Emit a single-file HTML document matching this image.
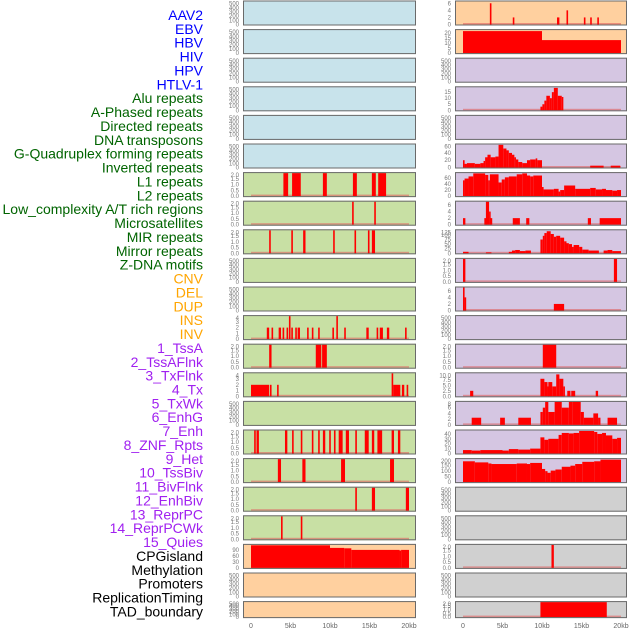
<!DOCTYPE html>
<html><head><meta charset="utf-8"><style>
html,body{margin:0;padding:0;background:#fff;width:630px;height:630px;overflow:hidden}
svg{display:block;font-family:"Liberation Sans",sans-serif}
</style></head><body>
<svg id="chart" width="630" height="630" viewBox="0 0 630 630" xmlns="http://www.w3.org/2000/svg"></svg>
<script>
// ---- data: track labels ----
const trackLabels = ["AAV2","EBV","HBV","HIV","HPV","HTLV-1","Alu repeats","A-Phased repeats","Directed repeats","DNA transposons","G-Quadruplex forming repeats","Inverted repeats","L1 repeats","L2 repeats","Low_complexity A/T rich regions","Microsatellites","MIR repeats","Mirror repeats","Z-DNA motifs","CNV","DEL","DUP","INS","INV","1_TssA","2_TssAFlnk","3_TxFlnk","4_Tx","5_TxWk","6_EnhG","7_Enh","8_ZNF_Rpts","9_Het","10_TssBiv","11_BivFlnk","12_EnhBiv","13_ReprPC","14_ReprPCWk","15_Quies","CPGisland","Methylation","Promoters","ReplicationTiming","TAD_boundary"];
const labelGroups = [6,13,5,15,5];
const groupColors = ["#0000ff","#006400","#ffa500","#a020f0","#000000"];
const xTickValues = [0,5,10,15,20];
const xTickLabels = ["0","5kb","10kb","15kb","20kb"];

// ---- data: segments [startKb, endKb, value] ----
const L6 = [[4.1,4.7,2],[5.2,6.3,2],[9.1,9.6,2],[12.9,13.4,2],[15.3,15.8,2],[16.1,17.1,2]];
const L7 = [[12.8,13.0,2],[15.6,15.8,2]];
const L8 = [[2.3,2.5,2],[5.1,5.3,2],[6.6,6.9,2],[10.4,10.6,2],[13.1,13.3,2],[14.8,15.0,2],[15.3,15.7,2]];
const L11 = [[2.0,2.3,2],[2.6,2.8,2],[3.5,3.8,2],[4.0,4.2,2],[4.5,4.7,2],[4.8,5.0,4],[5.1,5.3,2],[5.6,5.8,2],[5.9,6.2,2],[7.1,7.3,2],[7.7,7.9,2],[8.5,8.7,2],[10.3,10.5,2],[10.8,11.0,4],[11.8,12.0,2],[14.6,14.9,2],[15.9,16.1,2],[16.3,16.7,2],[17.2,17.5,2],[19.5,19.7,2]];
const L12 = [[2.3,2.6,2],[8.2,8.9,2],[9.0,9.6,2]];
const L13 = [[0.0,2.3,2],[2.4,2.6,2],[3.3,3.5,2],[17.8,18.0,4],[18.0,18.9,2],[19.1,19.4,2],[19.7,19.9,2]];
const L15 = [[0.4,0.6,2],[0.7,1.0,2],[4.3,4.6,2],[5.2,5.4,2],[6.3,6.5,2],[7.7,7.9,2],[8.5,8.7,2],[9.1,9.4,2],[9.9,10.1,2],[10.5,10.7,2],[11.1,11.6,2],[12.0,12.4,2],[13.2,13.4,2],[14.4,14.9,2],[15.3,15.6,2],[16.0,16.6,2],[17.8,18.1,2],[18.6,18.9,2]];
const L16 = [[3.4,3.8,2],[6.5,6.9,2],[11.4,11.9,2],[17.6,18.1,2]];
const L17 = [[13.2,13.4,2],[15.3,15.7,2],[19.6,20.0,2]];
const L18 = [[3.8,4.0,2],[6.3,6.5,2]];
const L19 = [[0.0,10.0,113],[10.0,11.8,100],[11.8,12.7,98],[12.7,18.8,90],[18.8,19.0,87],[19.0,20.0,90]];
const R0 = [[3.4,3.6,6],[6.3,6.45,2],[11.9,12.2,2],[13.1,13.3,4],[15.3,15.5,2],[16.1,16.3,2],[17.0,17.2,2]];
const R1 = [[0.0,10.0,22],[10.0,20.0,13]];
const R3 = [[9.8,10.05,3],[10.05,10.3,5],[10.3,10.55,8],[10.55,11.0,12],[11.0,11.25,10],[11.25,11.5,15],[11.5,12.0,18.5],[12.0,12.5,12],[12.5,12.7,11]];
const R5 = [[0.0,0.2,20],[0.2,0.5,10],[0.5,1.5,12],[1.5,2.2,10],[2.2,2.6,12],[2.6,2.8,18],[2.8,3.1,28],[3.1,3.5,35],[3.5,4.1,28],[4.1,4.5,30],[4.5,5.1,62],[5.1,5.5,52],[5.5,5.8,47],[5.8,6.2,40],[6.2,6.5,35],[6.5,6.7,28],[6.7,7.0,22],[7.0,7.5,15],[7.5,8.1,12],[8.1,8.5,20],[8.5,9.2,22],[9.2,9.4,25],[9.4,10.0,20],[16.1,17.8,5],[18.7,19.9,5]];
const R6 = [[0.0,0.2,52],[0.2,0.7,58],[0.7,1.3,65],[1.3,2.8,75],[2.8,3.2,70],[3.2,3.4,52],[3.4,4.5,72],[4.5,4.9,45],[4.9,5.3,55],[5.3,5.8,62],[5.8,6.8,65],[6.8,7.5,72],[7.5,8.1,75],[8.1,8.5,68],[8.5,8.9,65],[8.9,10.0,68],[10.0,10.2,30],[10.2,11.5,22],[11.5,12.1,24],[12.1,12.3,15],[12.3,12.8,20],[12.8,14.2,35],[14.2,16.1,24],[16.1,16.8,27],[16.8,17.6,22],[17.6,18.1,24],[18.1,18.9,20],[18.9,19.5,18],[19.5,20.0,20]];
const R7 = [[0.0,0.3,2],[2.7,3.0,2],[2.9,3.3,7],[3.3,3.4,4],[3.4,3.7,2],[6.3,7.2,2],[8.0,8.4,2],[15.8,16.2,2],[17.3,20.0,2]];
const R8 = [[0.0,0.7,8],[2.9,3.6,5],[5.8,6.2,8],[6.2,6.6,15],[6.6,7.2,18],[7.2,7.9,12],[7.9,8.6,15],[9.8,10.1,75],[10.1,10.3,95],[10.3,10.6,110],[10.6,11.1,120],[11.1,11.5,105],[11.5,11.8,90],[11.8,12.3,95],[12.3,12.8,85],[12.8,13.1,65],[13.1,13.4,55],[13.4,13.8,50],[13.8,14.0,35],[14.0,14.7,45],[14.7,15.1,35],[15.1,15.9,20],[15.9,17.2,15],[17.8,18.3,15],[18.3,18.9,18],[18.9,20.0,12]];
const R9 = [[0.0,0.3,2],[19.1,19.5,2]];
const R10 = [[0.0,0.2,7],[0.2,0.35,4],[11.5,12.8,2]];
const R12 = [[10.1,11.8,2]];
const R13 = [[0.9,1.3,2.5],[9.8,10.3,8],[10.3,10.7,6.5],[10.7,10.8,4.5],[10.8,11.3,6.5],[11.3,11.8,4.5],[11.8,12.2,10],[12.2,12.7,8],[12.7,12.85,4.5],[13.2,13.6,2.5],[13.7,14.2,2.5],[16.8,17.1,2.5]];
const R14 = [[1.1,2.3,2.5],[4.7,5.3,2.5],[7.0,8.6,2.5],[9.8,10.1,4.5],[10.1,10.4,6],[10.4,10.8,8],[10.8,11.6,4.5],[11.6,12.5,8],[12.5,13.4,6],[13.4,13.9,8],[13.9,14.9,8],[14.9,15.3,4.5],[15.3,16.5,2.5],[16.5,17.1,4],[17.1,17.4,2.5],[18.3,19.5,2.5]];
const R15 = [[0.0,1.1,7],[1.1,2.2,6],[2.2,5.0,7],[5.0,5.8,6],[5.8,7.0,9],[7.0,8.5,8],[8.5,9.8,10],[9.8,10.3,33],[10.3,10.8,28],[10.8,12.1,30],[12.1,12.5,38],[12.5,13.4,42],[13.4,14.0,41],[14.0,14.7,42],[14.7,16.6,46],[16.6,17.0,44],[17.0,17.6,40],[17.6,18.1,42],[18.1,18.9,37],[18.9,19.5,30],[19.5,20.0,32]];
const R16 = [[0.0,1.5,190],[1.5,3.2,180],[3.2,3.6,170],[3.6,6.8,165],[6.8,8.1,170],[8.1,8.5,165],[8.5,10.0,175],[10.0,10.4,120],[10.4,10.7,100],[10.7,11.1,85],[11.1,11.7,105],[11.7,12.5,115],[12.5,13.6,140],[13.6,14.2,150],[14.2,15.1,165],[15.1,16.6,185],[16.6,17.4,190],[17.4,20.0,205]];
const R19 = [[11.2,11.5,2]];
const R21 = [[9.8,18.2,2]];

// ---- tick arrays ----
const tEmpty = [0,100,200,300,400,500];
const tEmptyL = ["0","100","200","300","400","500"];
const tBin = [0,0.5,1,1.5,2];
const tBinL = ["0.0","0.5","1.0","1.5","2.0"];
const t04 = [0,1,2,3,4];
const t04L = ["0","1","2","3","4"];
const t06 = [0,2,4,6];
const t06L = ["0","2","4","6"];

const BLUE="#c8e3eb", GREEN="#c8e0a4", ORANGE="#ffd09f", PURPLE="#d5c6e2", GREY="#d0d0d0";
// [col,row,bg,ymax,data,ticks,tickLabels,name]
const panels = [];
function P(c,r,bg,ymax,d,t,tl,n){panels.push({c:c,r:r,bg:bg,ymax:ymax,d:d,t:t,tl:tl,n:n});}
for(let r=0;r<6;r++) P(0,r,BLUE,550,null,tEmpty,tEmptyL,"left-virus-"+r);
P(0,6,GREEN,2,L6,tBin,tBinL,"left-l1");
P(0,7,GREEN,2,L7,tBin,tBinL,"left-l2");
P(0,8,GREEN,2,L8,tBin,tBinL,"left-low-complexity");
P(0,9,GREEN,550,null,tEmpty,tEmptyL,"left-empty-9");
P(0,10,GREEN,550,null,tEmpty,tEmptyL,"left-empty-10");
P(0,11,GREEN,4,L11,t04,t04L,"left-ins");
P(0,12,GREEN,2,L12,tBin,tBinL,"left-row-12");
P(0,13,GREEN,4,L13,t04,t04L,"left-row-13");
P(0,14,GREEN,550,null,tEmpty,tEmptyL,"left-empty-14");
P(0,15,GREEN,2,L15,tBin,tBinL,"left-row-15");
P(0,16,GREEN,2,L16,tBin,tBinL,"left-row-16");
P(0,17,GREEN,2,L17,tBin,tBinL,"left-row-17");
P(0,18,GREEN,2,L18,tBin,tBinL,"left-row-18");
P(0,19,ORANGE,115,L19,[0,30,60,90],["0","30","60","90"],"left-cpg");
P(0,20,ORANGE,550,null,tEmpty,tEmptyL,"left-empty-20");
P(0,21,ORANGE,550,null,tEmpty,tEmptyL,"left-empty-21");
P(1,0,ORANGE,6.5,R0,t06,t06L,"right-aav2");
P(1,1,ORANGE,23,R1,[0,5,10,15,20],["0","5","10","15","20"],"right-ebv");
P(1,2,PURPLE,550,null,tEmpty,tEmptyL,"right-empty-2");
P(1,3,PURPLE,19,R3,[0,5,10,15],["0","5","10","15"],"right-alu");
P(1,4,PURPLE,550,null,tEmpty,tEmptyL,"right-empty-4");
P(1,5,PURPLE,63,R5,[0,20,40,60],["0","20","40","60"],"right-g-quadruplex");
P(1,6,PURPLE,76,R6,[0,20,40,60],["0","20","40","60"],"right-l1");
P(1,7,PURPLE,7,R7,t06,t06L,"right-low-complexity");
P(1,8,PURPLE,125,R8,[0,25,50,75,100,125],["0","25","50","75","100","125"],"right-mir");
P(1,9,PURPLE,2,R9,tBin,tBinL,"right-row-9");
P(1,10,PURPLE,7,R10,t06,t06L,"right-row-10");
P(1,11,PURPLE,550,null,tEmpty,tEmptyL,"right-empty-11");
P(1,12,PURPLE,2,R12,tBin,tBinL,"right-row-12");
P(1,13,PURPLE,10.5,R13,[0,2.5,5,7.5,10],["0.0","2.5","5.0","7.5","10.0"],"right-row-13");
P(1,14,PURPLE,8,R14,[0,2,4,6,8],["0","2","4","6","8"],"right-row-14");
P(1,15,PURPLE,47,R15,[0,10,20,30,40],["0","10","20","30","40"],"right-row-15");
P(1,16,PURPLE,210,R16,[0,50,100,150,200],["0","50","100","150","200"],"right-row-16");
P(1,17,GREY,550,null,tEmpty,tEmptyL,"right-empty-17");
P(1,18,GREY,550,null,tEmpty,tEmptyL,"right-empty-18");
P(1,19,GREY,2,R19,tBin,tBinL,"right-row-19");
P(1,20,GREY,550,null,tEmpty,tEmptyL,"right-empty-20");
P(1,21,GREY,2,R21,tBin,tBinL,"right-tad");

const svg = document.getElementById('chart');
const NS = "http://www.w3.org/2000/svg";
function mk(tag, attrs, parent){const e=document.createElementNS(NS,tag);for(const k in attrs)e.setAttribute(k,attrs[k]);(parent||svg).appendChild(e);return e;}

// labels
let li=0;
labelGroups.forEach((cnt,g)=>{for(let k=0;k<cnt;k++){
  const t=mk('text',{x:203,y:15+li*13.87+5,'text-anchor':'end','font-size':14,fill:groupColors[g]});
  t.textContent=trackLabels[li];
  
  
  li++;}});

const colX=[243,455], colW=[173,172];
function xScale(c,kb){return colX[c]+8+(kb+1.0-1.0)*7.9;}
function rowTop(r){return 0.5+r*28.6;}
function rowH(r){return r===21?17:25;}

panels.forEach(p=>{
  const x0=colX[p.c], w=colW[p.c], top=rowTop(p.r), h=rowH(p.r);
  const yScale=v=>top+h-1-(v/p.ymax)*(h-2);
  const g=mk('g',{});
  
  
  const bg=mk('rect',{x:x0,y:top,width:w,height:h,fill:p.bg},g);
  
  
  if(p.d){
    const base=mk('rect',{x:xScale(p.c,0),y:top+h-2.5,width:xScale(p.c,20)-xScale(p.c,0),height:1.5,fill:'#e06060',opacity:0.6},g);
    
    
    p.d.forEach(s=>{
      const xa=xScale(p.c,s[0]), xb=xScale(p.c,s[1]);
      const yv=Math.max(top+1,yScale(s[2]));
      const b=mk('rect',{x:xa,y:yv,width:Math.max(1.6,xb-xa),height:top+h-1-yv,fill:'#ff0000'},g);
      
      
    });
  }
  mk('rect',{x:x0+0.5,y:top+0.5,width:w-1,height:h-1,fill:'none',stroke:'#6a6a6a','stroke-width':1},g);
  p.t.forEach((v,i)=>{
    const ty=Math.max(top+3,Math.min(top+h-1,yScale(v)))+2;
    const t=mk('text',{x:x0-4,y:ty,'text-anchor':'end','font-size':6,fill:'#777'},g);
    t.textContent=p.tl[i];
    
    
  });
});

[0,1].forEach(c=>{xTickValues.forEach((v,i)=>{
  const t=mk('text',{x:xScale(c,v),y:628,'text-anchor':'middle','font-size':7,fill:'#666'});
  t.textContent=xTickLabels[i];
  
  
});});
</script>
</body></html>
